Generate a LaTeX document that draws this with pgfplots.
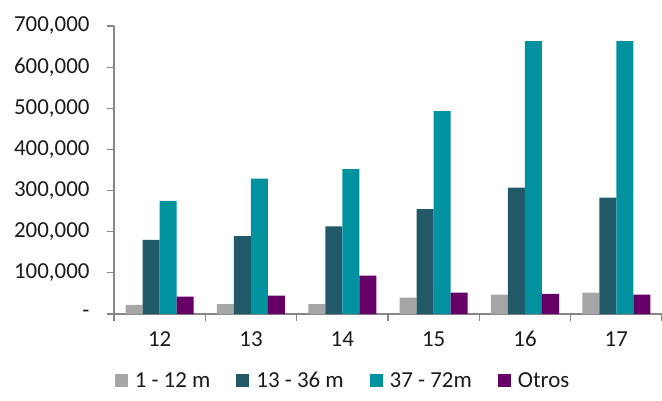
\documentclass[border=0pt]{standalone}
\usepackage{pgfplots}
\pgfplotsset{compat=1.18}
\usepackage{fontspec}
\setmainfont{Carlito}
\definecolor{cgray}{HTML}{A6A6A6}
\definecolor{cdark}{HTML}{215968}
\definecolor{cteal}{HTML}{00929F}
\definecolor{cpurp}{HTML}{660066}
\definecolor{axgray}{HTML}{868686}
\definecolor{txt}{HTML}{1A1A1A}
\begin{document}
\begin{tikzpicture}
\begin{axis}[
  name=ax,
  scale only axis,
  width=548bp, height=288bp,
  xmin=-0.5, xmax=5.5,
  ymin=0, ymax=700000,
  axis x line*=bottom, axis y line*=left,
  axis line style={axgray, line width=1.2bp},
  every axis plot/.append style={draw=none},
  ybar=0pt, bar width=17bp,
  xtick={0,...,5},
  xticklabels={12,13,14,15,16,17},
  major x tick style={draw=none},
  minor xtick={-0.5,0.5,...,5.5},
  minor x tick style={axgray, line width=1.2bp},
  minor tick length=7bp,
  ytick={0,100000,...,700000},
  yticklabels={-\hspace{12bp},{100,000},{200,000},{300,000},{400,000},{500,000},{600,000},{700,000}},
  y tick style={axgray, line width=1.2bp},
  major tick length=7bp,
  tick align=outside,
  scaled y ticks=false,
  tick label style={font=\fontsize{23}{27}\selectfont, text=txt},
  yticklabel style={xshift=-14bp},
  xticklabel style={yshift=-7bp},
  legend columns=4,
  legend style={draw=none, fill=none, at={(0.418,-0.2326)}, anchor=center,
    font=\fontsize{23}{27}\selectfont, text=txt,
    /tikz/every odd column/.append style={column sep=5bp},
    /tikz/every even column/.append style={column sep=24bp}},
  legend image code/.code={\fill[#1] (0bp,-6.5bp) rectangle (13bp,6.5bp);},
]
\addplot[fill=cgray] coordinates {(0,22000) (1,24000) (2,24000) (3,40000) (4,47000) (5,52000)};
\addlegendentry{1 - 12 m}
\addplot[fill=cdark] coordinates {(0,180000) (1,189000) (2,213000) (3,255000) (4,307000) (5,283000)};
\addlegendentry{13 - 36 m}
\addplot[fill=cteal] coordinates {(0,275000) (1,329000) (2,352000) (3,493000) (4,663000) (5,663000)};
\addlegendentry{37 - 72m}
\addplot[fill=cpurp] coordinates {(0,42000) (1,44500) (2,93000) (3,52000) (4,49000) (5,47000)};
\addlegendentry{Otros}
\end{axis}
\pgfresetboundingbox
\path[use as bounding box] ([shift={(-114bp,-87bp)}]ax.south west) rectangle ([shift={(-114bp,314bp)}]ax.south west) ++(662bp,0);
\end{tikzpicture}
\end{document}
